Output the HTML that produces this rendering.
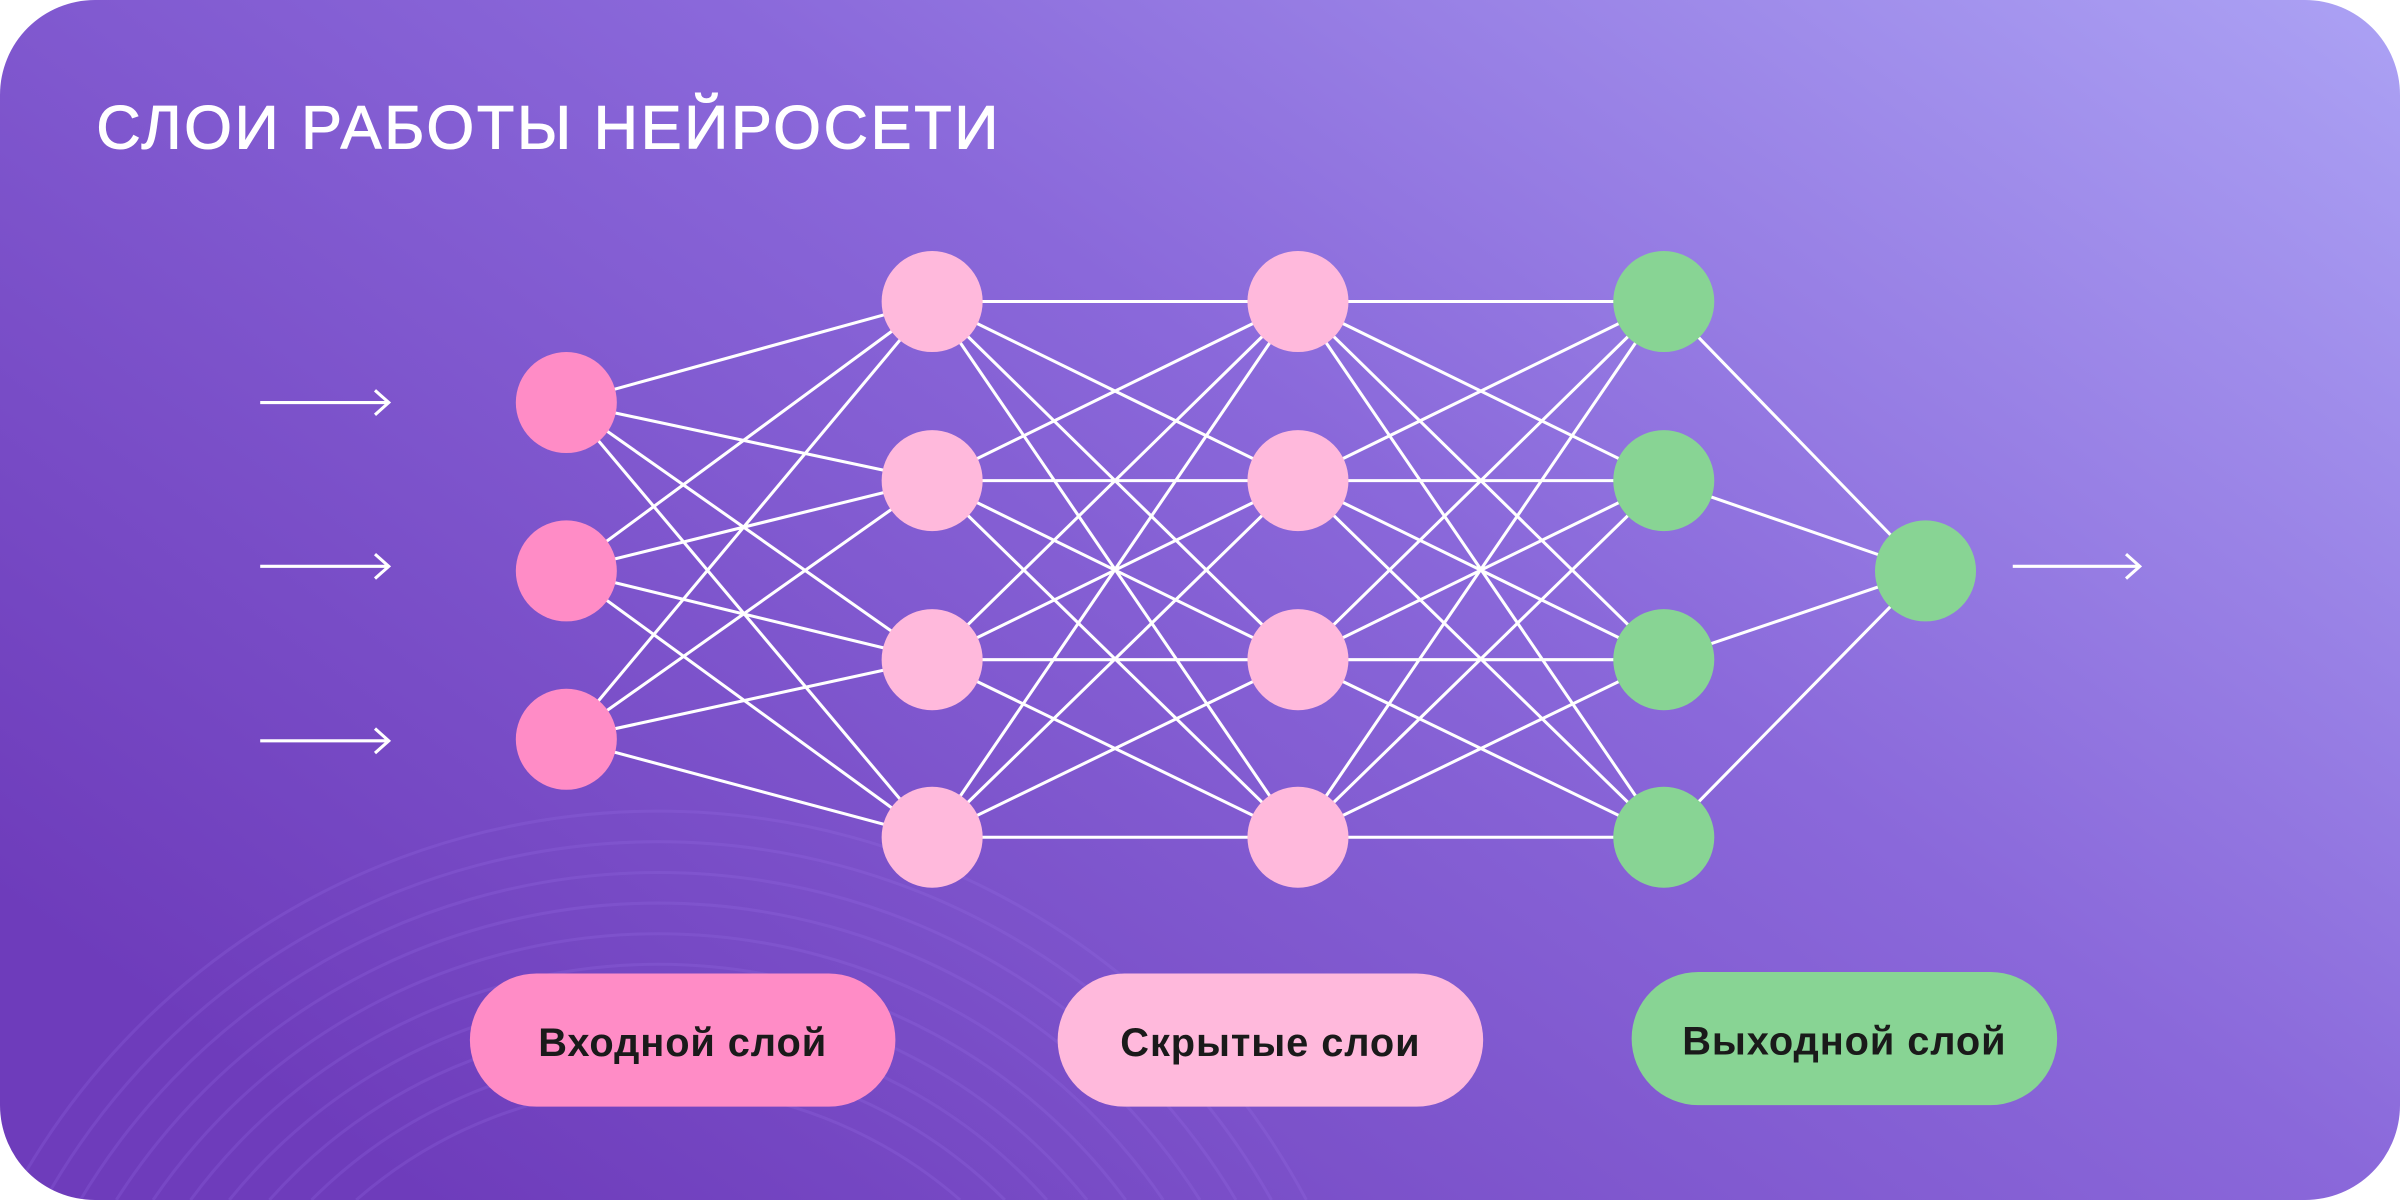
<!DOCTYPE html>
<html><head><meta charset="utf-8"><style>
html,body{margin:0;padding:0;background:#fff;width:2400px;height:1200px;overflow:hidden;}
svg{display:block;position:absolute;left:0;top:0;}
</style></head><body>
<svg width="2400" height="1200" viewBox="0 0 1568 784" xmlns="http://www.w3.org/2000/svg">
<defs>
<linearGradient id="bg" x1="0" y1="0.75" x2="1" y2="0.05">
<stop offset="0" stop-color="#6e3cbb"/>
<stop offset="0.55" stop-color="#8a68da"/>
<stop offset="1" stop-color="#aa9ff3"/>
</linearGradient>
<clipPath id="cl"><rect x="0" y="0" width="1568" height="784" rx="62"/></clipPath>
</defs>
<rect x="0" y="0" width="1568" height="784" rx="62" fill="url(#bg)"/>
<g clip-path="url(#cl)" fill="none" stroke="#9a70ea" stroke-opacity="0.22" stroke-width="2">
<path d="M232.7 784A300 300 0 0 1 627.3 784"/>
<path d="M203.5 784A320 320 0 0 1 656.5 784"/>
<path d="M176 784A340 340 0 0 1 684 784"/>
<path d="M149.8 784A360 360 0 0 1 710.2 784"/>
<path d="M124.5 784A380 380 0 0 1 735.5 784"/>
<path d="M100 784A400 400 0 0 1 760 784"/>
<path d="M76 784A420 420 0 0 1 784 784"/>
<path d="M52.5 784A440 440 0 0 1 807.5 784"/>
<path d="M29.3 784A460 460 0 0 1 830.7 784"/>
<path d="M6.5 784A480 480 0 0 1 853.5 784"/>
</g>
<text x="63" y="97" font-family="Liberation Sans, sans-serif" font-size="40" fill="#fff" stroke="#fff" stroke-width="0.7" letter-spacing="1.8">СЛОИ РАБОТЫ НЕЙРОСЕТИ</text>
<g stroke="#fff" stroke-width="2" fill="none">
<path d="M170 263H254M245 255L254 263L245 271"/>
<path d="M170 370H254M245 362L254 370L245 378"/>
<path d="M170 484H254M245 476L254 484L245 492"/>
<path d="M1315 370H1398M1389 362L1398 370L1389 378"/>
<path d="M370 263L609 197M370 263L609 314M370 263L609 431M370 263L609 547
M370 373L609 197M370 373L609 314M370 373L609 431M370 373L609 547
M370 483L609 197M370 483L609 314M370 483L609 431M370 483L609 547"/>
<path d="M609 197L848 197M609 197L848 314M609 197L848 431M609 197L848 547
M609 314L848 197M609 314L848 314M609 314L848 431M609 314L848 547
M609 431L848 197M609 431L848 314M609 431L848 431M609 431L848 547
M609 547L848 197M609 547L848 314M609 547L848 431M609 547L848 547"/>
<path d="M848 197L1087 197M848 197L1087 314M848 197L1087 431M848 197L1087 547
M848 314L1087 197M848 314L1087 314M848 314L1087 431M848 314L1087 547
M848 431L1087 197M848 431L1087 314M848 431L1087 431M848 431L1087 547
M848 547L1087 197M848 547L1087 314M848 547L1087 431M848 547L1087 547"/>
<path d="M1087 197L1258 373M1087 314L1258 373M1087 431L1258 373M1087 547L1258 373"/>
</g>
<g fill="#ff8cc6"><circle cx="370" cy="263" r="33"/><circle cx="370" cy="373" r="33"/><circle cx="370" cy="483" r="33"/></g>
<g fill="#ffb9dc"><circle cx="609" cy="197" r="33"/><circle cx="609" cy="314" r="33"/><circle cx="609" cy="431" r="33"/><circle cx="609" cy="547" r="33"/>
<circle cx="848" cy="197" r="33"/><circle cx="848" cy="314" r="33"/><circle cx="848" cy="431" r="33"/><circle cx="848" cy="547" r="33"/></g>
<g fill="#88d494"><circle cx="1087" cy="197" r="33"/><circle cx="1087" cy="314" r="33"/><circle cx="1087" cy="431" r="33"/><circle cx="1087" cy="547" r="33"/><circle cx="1258" cy="373" r="33"/></g>
<rect x="307" y="636" width="278" height="87" rx="43.5" fill="#ff8cc6"/>
<rect x="691" y="636" width="278" height="87" rx="43.5" fill="#ffb9dc"/>
<rect x="1066" y="635" width="278" height="87" rx="43.5" fill="#88d494"/>
<g font-family="Liberation Sans, sans-serif" font-size="26" font-weight="bold" fill="#1a1a1a" text-anchor="middle" letter-spacing="0.6">
<text x="446" y="690">Входной слой</text>
<text x="830" y="690">Скрытые слои</text>
<text x="1205" y="689">Выходной слой</text>
</g>
</svg>
</body></html>
